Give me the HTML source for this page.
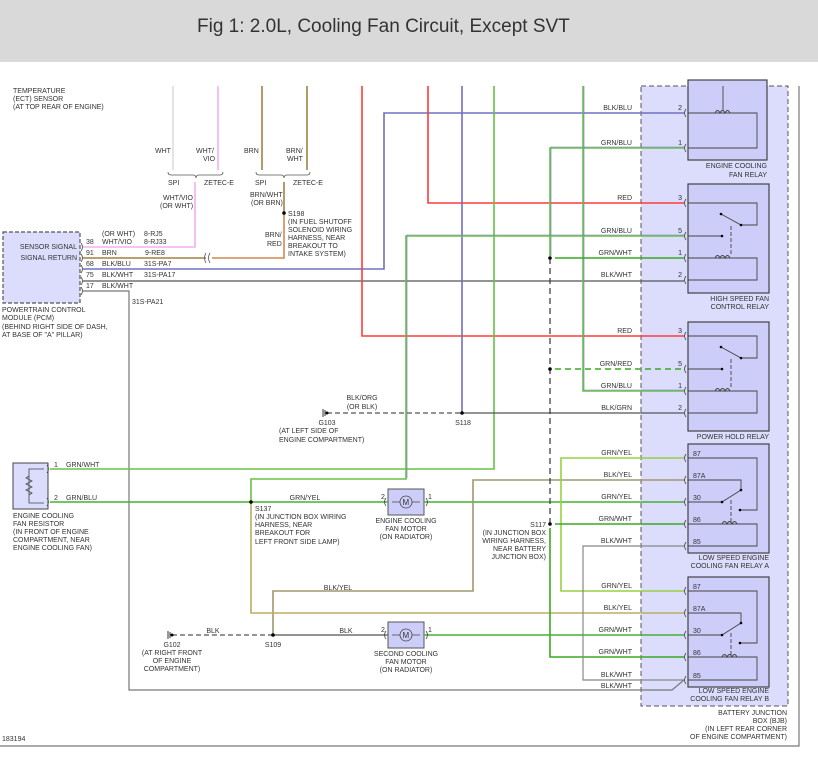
<!DOCTYPE html>
<html><head><meta charset="utf-8"><style>
html,body{margin:0;padding:0;background:#fff;}
svg{display:block;}
text{font-family:"Liberation Sans",sans-serif;font-size:7px;fill:#333;}
.t{font-size:19px;fill:#333;}
</style></head><body>
<svg width="818" height="768" viewBox="0 0 818 768" xmlns="http://www.w3.org/2000/svg">
<rect x="0" y="0" width="818" height="62" fill="#d9d9d9"/>
<text class="t" x="197" y="32">Fig 1: 2.0L, Cooling Fan Circuit, Except SVT</text>

<!-- BJB -->
<rect x="641" y="86" width="147" height="620" fill="#dcdcfc" stroke="#555" stroke-dasharray="5,3"/>
<!-- relays -->
<g fill="#cdcdfa" stroke="#444" stroke-width="1.2">
<rect x="688" y="80" width="79" height="80"/>
<rect x="688" y="184" width="81" height="109"/>
<rect x="688" y="322" width="81" height="109"/>
<rect x="688" y="444" width="81" height="109"/>
<rect x="688" y="577" width="81" height="110"/>
</g>
<!-- outer frame -->
<path d="M799 86 V746 H0" fill="none" stroke="#777" stroke-width="1.2"/>
<!-- PCM -->
<rect x="3" y="232" width="77" height="71" fill="#dcdcfc" stroke="#555" stroke-width="1.2" stroke-dasharray="4,2"/>
<!-- resistor -->
<rect x="13" y="463" width="35" height="46" fill="#dcdcfc" stroke="#444"/>
<path d="M44 469 H29 V503 H44 M29 476 l-3 2 6 3 -6 3 6 3 -6 3 6 3 -3 2" fill="none" stroke="#444" stroke-width="0.8"/>
<!-- motors -->
<g fill="#cdcdfa" stroke="#555">
<rect x="388" y="489" width="36" height="26"/>
<rect x="388" y="622" width="36" height="26"/>
</g>
<g fill="none" stroke="#444" stroke-width="0.8">
<circle cx="406" cy="502" r="6"/><circle cx="406" cy="635" r="6"/>
<path d="M392 502 H400 M412 502 H420 M392 635 H400 M412 635 H420"/>
</g>
<text x="402.5" y="505" style="font-size:8px">M</text>
<text x="402.5" y="638" style="font-size:8px">M</text>

<g fill="none" stroke-width="1.6">
<!-- top verticals -->
<path d="M173 86 V170" stroke="#ddd"/>
<path d="M218 86 V170" stroke="#f2b0f0"/>
<path d="M262 86 V170 M307 86 V170" stroke="#a08040"/>
<!-- braces -->
<path d="M168 172 q0 3 3 3 h22 q3 0 3 3 q0-3 3-3 h21 q3 0 3-3 M256 172 q0 3 3 3 h22 q3 0 3 3 q0-3 3-3 h20 q3 0 3-3" stroke="#555" stroke-width="0.8"/>
<!-- WHT/VIO -->
<path d="M83 247 H195 V182" stroke="#f2b0f0"/>
<!-- BRN -->
<path d="M83 258 H206" stroke="#a08040"/>
<path d="M212 258 H284 V213" stroke="#d08850"/>
<path d="M284 213 V182" stroke="#a08040"/>
<path d="M206 253 q-3 5 0 10 M210 253 q-3 5 0 10" stroke="#555" stroke-width="0.8"/>
<!-- BLK/BLU -->
<path d="M83 269 H384 V113 H684" stroke="#7070c0"/>
<!-- BLK/WHT 75 -->
<path d="M83 281 H684" stroke="#555" stroke-width="1.2"/>
<!-- BLK/WHT 17 -->
<path d="M83 291 H129 V690 H672 L684 680" stroke="#777" stroke-width="1.2"/>
<!-- reds -->
<path d="M362 86 V336 H684" stroke="#ff3b3b"/>
<path d="M428 86 V203 H684" stroke="#ff3b3b"/>
<!-- blue 462 -->
<path d="M462 86 V413" stroke="#7070c0"/>
<!-- green 494 -->
<path d="M494 86 V469 H50" stroke="#66c244"/>
<!-- GRN/BLU 550 -->
<path d="M684 148 H550 V256" stroke="#66c244"/>
<path d="M684 147 H551 V256" stroke="#7070c0" stroke-width="0.6"/>
<!-- GRN/BLU 583 -->
<path d="M583 86 V391 H684" stroke="#66c244"/>
<path d="M584 86 V390 H684" stroke="#7070c0" stroke-width="0.6"/>
<!-- GRN/BLU 406 -->
<path d="M684 236 H406 V479 H251 V502" stroke="#66c244"/>
<path d="M684 235 H407 V478" stroke="#7070c0" stroke-width="0.6"/>
<!-- GRN/WHT HS -->
<path d="M555 258 H684" stroke="#3aaa22"/>
<!-- GRN/RED dashed -->
<path d="M555 369 H684" stroke="#3aaa22" stroke-dasharray="6,4"/>
<!-- BLK/GRN -->
<path d="M462 413 H684" stroke="#555" stroke-width="1.2"/>
<path d="M327 413 H462" stroke="#555" stroke-width="1.2" stroke-dasharray="5,3"/>
<!-- resistor pin2 / GRN/YEL to motor / motor to relay -->
<path d="M50 502 H388" stroke="#44b030"/>
<path d="M424 502 H684" stroke="#44b030"/>
<!-- BLK/YEL -->
<path d="M684 480 H473 V591 H273 V635" stroke="#a09870"/>
<path d="M251 502 V613 H684" stroke="#b8b060"/>
<!-- GRN/YEL 561 -->
<path d="M684 458 H561 V591 H684" stroke="#9ad040"/>
<!-- S117 -->
<path d="M555 524 H684" stroke="#3aaa22"/>
<path d="M550 528 V657 H684" stroke="#3aaa22"/>
<!-- BLK/WHT 583 -->
<path d="M684 546 H583 V680 H684" stroke="#888" stroke-width="1.2"/>
<!-- BLK -->
<path d="M172 635 H273" stroke="#555" stroke-width="1.2" stroke-dasharray="5,3"/>
<path d="M273 635 H388" stroke="#555" stroke-width="1.2"/>
<path d="M424 635 H684" stroke="#44b030"/>
<!-- dashed vertical -->
<path d="M550 258 V524" stroke="#333" stroke-width="1.2" stroke-dasharray="6,4"/>
</g>
<!-- dots -->
<g fill="#000">
<circle cx="284" cy="213" r="1.8"/><circle cx="462" cy="413" r="1.8"/><circle cx="251" cy="502" r="1.8"/>
<circle cx="550" cy="258" r="1.8"/><circle cx="550" cy="369" r="1.8"/><circle cx="550" cy="524" r="1.8"/>
<circle cx="273" cy="635" r="1.8"/><circle cx="327" cy="413" r="1.5"/><circle cx="172" cy="635" r="1.5"/>
</g>
<path d="M323 409 v8 M325 410 v6 M168 631 v8 M170 632 v6" stroke="#333"/>

<!-- relay internals -->
<g fill="none" stroke="#444" stroke-width="0.9">
<path d="M688 113 H757 V148 H688 M723 86 V110" />
<path d="M715 113 q2.5 -5 5 0 q2.5 -5 5 0 q2.5 -5 5 0"/>
<path d="M688 203 H757 V225 H741 L721 214 M688 236 H722 M688 258 H757 V280 H688 M715 258 q2.5 -5 5 0 q2.5 -5 5 0 q2.5 -5 5 0"/>
<path d="M731 226 V256" stroke-dasharray="4,2"/>
<path d="M688 336 H757 V358 H741 L721 347 M688 369 H722 M688 391 H757 V413 H688 M715 391 q2.5 -5 5 0 q2.5 -5 5 0 q2.5 -5 5 0"/>
<path d="M731 359 V389" stroke-dasharray="4,2"/>
<path d="M688 458 H757 V510 H740 M688 480 H741 V490 L722 502 H688 M688 524 H757 V546 H688 M722 524 q2.5 -5 5 0 q2.5 -5 5 0 q2.5 -5 5 0"/>
<path d="M731 500 V522" stroke-dasharray="4,2"/>
<path d="M688 591 H757 V643 H740 M688 613 H741 V623 L722 635 H688 M688 657 H757 V680 H688 M722 657 q2.5 -5 5 0 q2.5 -5 5 0 q2.5 -5 5 0"/>
<path d="M731 633 V655" stroke-dasharray="4,2"/>
</g>
<g fill="#000">
<circle cx="721" cy="214" r="1.3"/><circle cx="741" cy="225" r="1.3"/><circle cx="722" cy="236" r="1.3"/>
<circle cx="721" cy="347" r="1.3"/><circle cx="741" cy="358" r="1.3"/><circle cx="722" cy="369" r="1.3"/>
<circle cx="740" cy="510" r="1.3"/><circle cx="741" cy="490" r="1.3"/><circle cx="722" cy="502" r="1.3"/>
<circle cx="740" cy="643" r="1.3"/><circle cx="741" cy="623" r="1.3"/><circle cx="722" cy="635" r="1.3"/>
</g>
<!-- connector marks -->
<g fill="none" stroke="#444" stroke-width="0.8">
<path d="M686 109 q-3 4 0 8 M686 144 q-3 4 0 8 M686 199 q-3 4 0 8 M686 232 q-3 4 0 8 M686 254 q-3 4 0 8 M686 276 q-3 4 0 8 M686 332 q-3 4 0 8 M686 365 q-3 4 0 8 M686 387 q-3 4 0 8 M686 409 q-3 4 0 8 M686 454 q-3 4 0 8 M686 476 q-3 4 0 8 M686 498 q-3 4 0 8 M686 520 q-3 4 0 8 M686 542 q-3 4 0 8 M686 587 q-3 4 0 8 M686 609 q-3 4 0 8 M686 631 q-3 4 0 8 M686 653 q-3 4 0 8 M686 676 q-3 4 0 8"/>
<path d="M81 243 q3 4 0 8 M81 254 q3 4 0 8 M81 265 q3 4 0 8 M81 277 q3 4 0 8 M81 287 q3 4 0 8 M47 465 q3 4 0 8 M47 498 q3 4 0 8 M386 498 q-3 4 0 8 M426 498 q3 4 0 8 M386 631 q-3 4 0 8 M426 631 q3 4 0 8"/>
</g>

<!-- texts -->
<text x="13" y="93">TEMPERATURE</text><text x="13" y="101">(ECT) SENSOR</text><text x="13" y="109">(AT TOP REAR OF ENGINE)</text>
<text x="155" y="153">WHT</text><text x="196" y="153">WHT/</text><text x="203" y="161">VIO</text>
<text x="244" y="153">BRN</text><text x="286" y="153">BRN/</text><text x="287" y="161">WHT</text>
<text x="168" y="185">SPI</text><text x="204" y="185">ZETEC-E</text><text x="255" y="185">SPI</text><text x="293" y="185">ZETEC-E</text>
<text x="163" y="200">WHT/VIO</text><text x="160" y="208">(OR WHT)</text>
<text x="250" y="197">BRN/WHT</text><text x="251" y="205">(OR BRN)</text>
<text x="288" y="216">S198</text><text x="288" y="224">(IN FUEL SHUTOFF</text><text x="288" y="232">SOLENOID WIRING</text><text x="288" y="240">HARNESS, NEAR</text><text x="288" y="248">BREAKOUT TO</text><text x="288" y="256">INTAKE SYSTEM)</text>
<text x="265" y="237">BRN/</text><text x="267" y="246">RED</text>
<text x="102" y="236">(OR WHT)</text><text x="144" y="236">8-RJ5</text>
<text x="86" y="244">38</text><text x="102" y="244">WHT/VIO</text><text x="144" y="244">8-RJ33</text>
<text x="86" y="255">91</text><text x="102" y="255">BRN</text><text x="145" y="255">9-RE8</text>
<text x="86" y="266">68</text><text x="102" y="266">BLK/BLU</text><text x="144" y="266">31S-PA7</text>
<text x="86" y="277">75</text><text x="102" y="277">BLK/WHT</text><text x="144" y="277">31S-PA17</text>
<text x="86" y="288">17</text><text x="102" y="288">BLK/WHT</text><text x="132" y="304">31S-PA21</text>
<text x="77" y="249" text-anchor="end">SENSOR SIGNAL</text><text x="77" y="260" text-anchor="end">SIGNAL RETURN</text>
<text x="2" y="312">POWERTRAIN CONTROL</text><text x="2" y="320">MODULE (PCM)</text><text x="2" y="329">(BEHIND RIGHT SIDE OF DASH,</text><text x="2" y="337">AT BASE OF "A" PILLAR)</text>

<g text-anchor="end">
<text x="632" y="110">BLK/BLU</text><text x="632" y="145">GRN/BLU</text>
<text x="632" y="200">RED</text><text x="632" y="233">GRN/BLU</text><text x="632" y="255">GRN/WHT</text><text x="632" y="277">BLK/WHT</text>
<text x="632" y="333">RED</text><text x="632" y="366">GRN/RED</text><text x="632" y="388">GRN/BLU</text><text x="632" y="410">BLK/GRN</text>
<text x="632" y="455">GRN/YEL</text><text x="632" y="477">BLK/YEL</text><text x="632" y="499">GRN/YEL</text><text x="632" y="521">GRN/WHT</text><text x="632" y="543">BLK/WHT</text>
<text x="632" y="588">GRN/YEL</text><text x="632" y="610">BLK/YEL</text><text x="632" y="632">GRN/WHT</text><text x="632" y="654">GRN/WHT</text><text x="632" y="677">BLK/WHT</text><text x="632" y="688">BLK/WHT</text>
<text x="682" y="110">2</text><text x="682" y="145">1</text>
<text x="682" y="200">3</text><text x="682" y="233">5</text><text x="682" y="255">1</text><text x="682" y="277">2</text>
<text x="682" y="333">3</text><text x="682" y="366">5</text><text x="682" y="388">1</text><text x="682" y="410">2</text>
<text x="767" y="168">ENGINE COOLING</text><text x="767" y="177">FAN RELAY</text>
<text x="769" y="301">HIGH SPEED FAN</text><text x="769" y="309">CONTROL RELAY</text>
<text x="769" y="439">POWER HOLD RELAY</text>
<text x="769" y="560">LOW SPEED ENGINE</text><text x="769" y="568">COOLING FAN RELAY A</text>
<text x="769" y="693">LOW SPEED ENGINE</text><text x="769" y="701">COOLING FAN RELAY B</text>
<text x="787" y="715">BATTERY JUNCTION</text><text x="787" y="723">BOX (BJB)</text><text x="787" y="731">(IN LEFT REAR CORNER</text><text x="787" y="739">OF ENGINE COMPARTMENT)</text>
<text x="546" y="527">S117</text><text x="546" y="535">(IN JUNCTION BOX</text><text x="546" y="543">WIRING HARNESS,</text><text x="546" y="551">NEAR BATTERY</text><text x="546" y="559">JUNCTION BOX)</text>
</g>
<text x="693" y="456">87</text><text x="693" y="478">87A</text><text x="693" y="500">30</text><text x="693" y="522">86</text><text x="693" y="544">85</text>
<text x="693" y="589">87</text><text x="693" y="611">87A</text><text x="693" y="633">30</text><text x="693" y="655">86</text><text x="693" y="678">85</text>

<g text-anchor="middle">
<text x="362" y="400">BLK/ORG</text><text x="362" y="409">(OR BLK)</text>
<text x="327" y="425">G103</text><text x="463" y="425">S118</text>
<text x="305" y="500">GRN/YEL</text>
<text x="406" y="523">ENGINE COOLING</text><text x="406" y="531">FAN MOTOR</text><text x="406" y="539">(ON RADIATOR)</text>
<text x="338" y="590">BLK/YEL</text><text x="213" y="633">BLK</text><text x="346" y="633">BLK</text>
<text x="172" y="647">G102</text><text x="172" y="655">(AT RIGHT FRONT</text><text x="172" y="663">OF ENGINE</text><text x="172" y="671">COMPARTMENT)</text>
<text x="273" y="647">S109</text>
<text x="406" y="656">SECOND COOLING</text><text x="406" y="664">FAN MOTOR</text><text x="406" y="672">(ON RADIATOR)</text>
</g>
<text x="279" y="433">(AT LEFT SIDE OF</text><text x="279" y="442">ENGINE COMPARTMENT)</text>
<text x="54" y="467">1</text><text x="66" y="467">GRN/WHT</text><text x="54" y="500">2</text><text x="66" y="500">GRN/BLU</text>
<text x="13" y="518">ENGINE COOLING</text><text x="13" y="526">FAN RESISTOR</text><text x="13" y="534">(IN FRONT OF ENGINE</text><text x="13" y="542">COMPARTMENT, NEAR</text><text x="13" y="550">ENGINE COOLING FAN)</text>
<text x="255" y="511">S137</text><text x="255" y="519">(IN JUNCTION BOX WIRING</text><text x="255" y="527">HARNESS, NEAR</text><text x="255" y="535">BREAKOUT FOR</text><text x="255" y="544">LEFT FRONT SIDE LAMP)</text>
<text x="381" y="499">2</text><text x="428" y="499">1</text><text x="381" y="632">2</text><text x="428" y="632">1</text>
<text x="2" y="741">183194</text>
</svg>
</body></html>
